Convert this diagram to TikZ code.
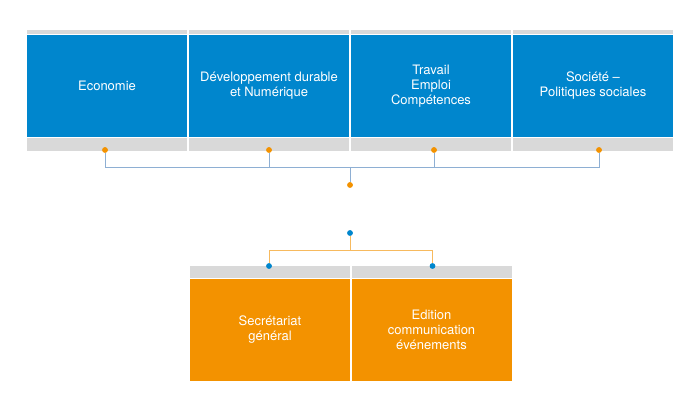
\documentclass[tikz,border=0pt]{standalone}
\usepackage{fontspec}
\setmainfont{TeX Gyre Heros}
\definecolor{poleblue}{HTML}{0086CD}
\definecolor{poleorange}{HTML}{F39200}
\definecolor{stripgray}{HTML}{D9D9D9}
\definecolor{linkblue}{HTML}{8EAFD3}
\definecolor{linkorange}{HTML}{F7BA5E}
\tikzset{
	pole/.style={minimum width=160pt, minimum height=102pt, inner sep=0pt, text=white, align=center, font=\fontsize{13}{15}\selectfont},
	strip/.style={fill=stripgray, minimum width=160pt, inner sep=0pt},
	dot/.style={circle, inner sep=0pt, minimum size=5.5pt}
}

\begin{document}
\begin{tikzpicture}[x=1pt,y=-1pt]
	\useasboundingbox (0,0) rectangle (699,403);
	% top row
	\foreach \n/\x in {eco/107, dev/269, tra/431, soc/593} {
		\node[strip, minimum height=4pt] (\n-top) at (\x,32) {};
		\node[strip, minimum height=12.5pt] (\n-bot) at (\x,144.5) {};
	}
	\node[pole, fill=poleblue] (eco) at (107,86) {Economie};
	\node[pole, fill=poleblue] (dev) at (269,86) {Développement durable\\et Numérique};
	\node[pole, fill=poleblue] (tra) at (431,86) {Travail\\Emploi\\Compétences};
	\node[pole, fill=poleblue] (soc) at (593,86) {Société --\\Politiques sociales};
	\node[dot, fill=poleorange] (eco-dot) at (105,150) {};
	\node[dot, fill=poleorange] (dev-dot) at (269,150) {};
	\node[dot, fill=poleorange] (tra-dot) at (434,150) {};
	\node[dot, fill=poleorange] (soc-dot) at (599,150) {};
	\node[dot, fill=poleorange] (up) at (350,185) {};
	\coordinate (upj) at (350,167);
	\foreach \u in {eco-dot, dev-dot, tra-dot, soc-dot} {\draw[linkblue, line width=0.8pt] (\u) |- (upj);}
	\draw[linkblue, line width=0.8pt] (upj) -- (up);
	% bottom row
	\node[strip, minimum height=12pt] (sec-top) at (270,272) {};
	\node[strip, minimum height=12pt] (edi-top) at (431.5,272) {};
	\node[pole, fill=poleorange] (sec) at (270,330) {Secrétariat\\général};
	\node[pole, fill=poleorange] (edi) at (431.5,330) {Edition\\communication\\événements};
	\node[dot, fill=poleblue] (down) at (350,233) {};
	\node[dot, fill=poleblue] (sec-dot) at (269,266) {};
	\node[dot, fill=poleblue] (edi-dot) at (432.5,266) {};
	\coordinate (downj) at (350,250.5);
	\draw[linkorange, line width=0.8pt] (down) -- (downj);
	\foreach \v in {sec-dot, edi-dot} {\draw[linkorange, line width=0.8pt] (downj) -| (\v);}
	% redraw dots over links
	\foreach \d in {eco-dot, dev-dot, tra-dot, soc-dot, up} {\fill[poleorange] (\d) circle (2.75pt);}
	\foreach \d in {down, sec-dot, edi-dot} {\fill[poleblue] (\d) circle (2.75pt);}
\end{tikzpicture}
\end{document}
